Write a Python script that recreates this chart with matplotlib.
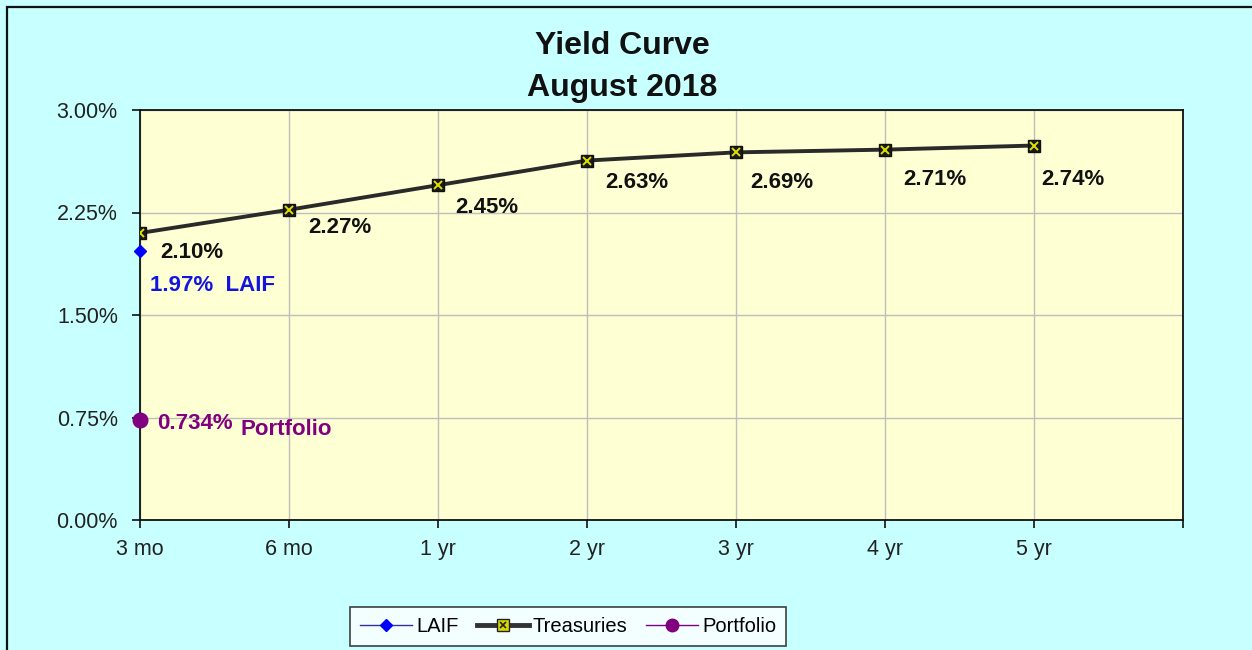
import numpy as np
import matplotlib.pyplot as plt
from matplotlib.lines import Line2D
from matplotlib.patches import Rectangle
from matplotlib.ticker import FuncFormatter

plt.rcParams['font.family'] = ['Liberation Sans', 'DejaVu Sans']

# data
terms = ["3 mo", "6 mo", "1 yr", "2 yr", "3 yr", "4 yr", "5 yr"]
treasuries = [2.10, 2.27, 2.45, 2.63, 2.69, 2.71, 2.74]
laif = [1.97]
portfolio = [0.734]

# label offsets in pixels (dx right, dy down)
lab_dx = [20, 19, 17, 18, 14, 18, 7]
lab_dy = [19, 18, 22, 22, 30, 30, 34]

bg = "#C8FFFF"
plot_bg = "#FFFFD4"
blue = "#1414E0"
purple = "#800080"

fig = plt.figure(figsize=(12.52, 6.5), dpi=100, facecolor=bg)
ax = fig.add_axes([140 / 1252, 130 / 650, 1043 / 1252, 410 / 650])
ax.set_facecolor(plot_bg)

x = np.arange(len(terms))

# Treasuries
ax.plot(x, treasuries, color="#2a2a2a", lw=2.8, zorder=3)
ax.plot(x, treasuries, ls="none", marker="s", ms=8.5, mfc="#1a1a1a", mec="#111111", zorder=4)
ax.plot(x, treasuries, ls="none", marker="x", ms=5.5, mew=1.4, color="#E0E000", zorder=5)

# LAIF and Portfolio
ax.plot([0], laif, ls="none", marker="D", ms=6.5, color="#0000FF", zorder=4, clip_on=False)
ax.plot([0], portfolio, ls="none", marker="o", ms=10.5, color=purple, zorder=4, clip_on=False)

for xi, v, dx, dy in zip(x, treasuries, lab_dx, lab_dy):
    ax.annotate(f"{v:.2f}%", (xi, v), xytext=(dx * 0.72, -dy * 0.72), textcoords="offset points",
                ha="left", va="center", fontsize=16, fontweight="bold", color="#111111")

ax.annotate(f"{laif[0]:.2f}%  LAIF", (0, laif[0]), xytext=(10 * 0.72, -35 * 0.72),
            textcoords="offset points", ha="left", va="center",
            fontsize=16, fontweight="bold", color=blue)
ax.annotate(f"{portfolio[0]:.3f}%", (0, portfolio[0]), xytext=(17 * 0.72, -4 * 0.72),
            textcoords="offset points", ha="left", va="center",
            fontsize=16, fontweight="bold", color=purple)
ax.annotate("Portfolio", (0, portfolio[0]), xytext=(100 * 0.72, -10 * 0.72),
            textcoords="offset points", ha="left", va="center",
            fontsize=16, fontweight="bold", color=purple)

ax.set_xlim(0, 7)
ax.set_ylim(0, 3.0)
ax.set_xticks(np.arange(8))
ax.set_xticklabels(terms + [""])
ax.set_yticks(np.arange(0, 3.01, 0.75))
ax.yaxis.set_major_formatter(FuncFormatter(lambda v, p: f"{v:.2f}%"))
ax.tick_params(direction="out", length=6, width=1.2, color="#111111",
               labelsize=15.5, labelcolor="#222222")
ax.tick_params(axis="y", pad=10)
ax.tick_params(axis="x", pad=8)
ax.grid(True, color="#BEBEBE", lw=1)
ax.set_axisbelow(True)
for s in ax.spines.values():
    s.set_color("#111111")
    s.set_linewidth(1.3)

fig.text(622 / 1252, 1 - 46 / 650, "Yield Curve", ha="center", va="center",
         fontsize=23, fontweight="bold", color="#111111")
fig.text(622 / 1252, 1 - 88 / 650, "August 2018", ha="center", va="center",
         fontsize=23, fontweight="bold", color="#111111")

# outer chart border
fig.patches.append(Rectangle((7 / 1252, -0.1), 1.2, 1 - 7 / 650 + 0.1, transform=fig.transFigure,
                             fill=False, ec="#111111", lw=1.6))

handles = [
    Line2D([], [], color="#3030A0", lw=1, marker="D", ms=6, mfc="#0000FF", mec="#0000FF"),
    (Line2D([], [], color="#333333", lw=3.5, marker="s", ms=8, mfc="#D8D800", mec="#222222"),
     Line2D([], [], ls="none", marker="x", ms=5, mew=1.2, color="#222222")),
    Line2D([], [], color=purple, lw=1, marker="o", ms=9, mfc=purple, mec=purple),
]
leg = fig.legend(handles, ["LAIF", "Treasuries", "Portfolio"], loc="upper center",
                 bbox_to_anchor=(568 / 1252, 1 - 607 / 650), ncol=3, fontsize=14.5,
                 frameon=True, fancybox=False, edgecolor="#111111", facecolor="white",
                 handlelength=2.6, handletextpad=0.2, columnspacing=0.9,
                 borderpad=0.5, borderaxespad=0)
leg.get_frame().set_linewidth(1.2)

fig.savefig("out.png", dpi=100, facecolor=bg)
